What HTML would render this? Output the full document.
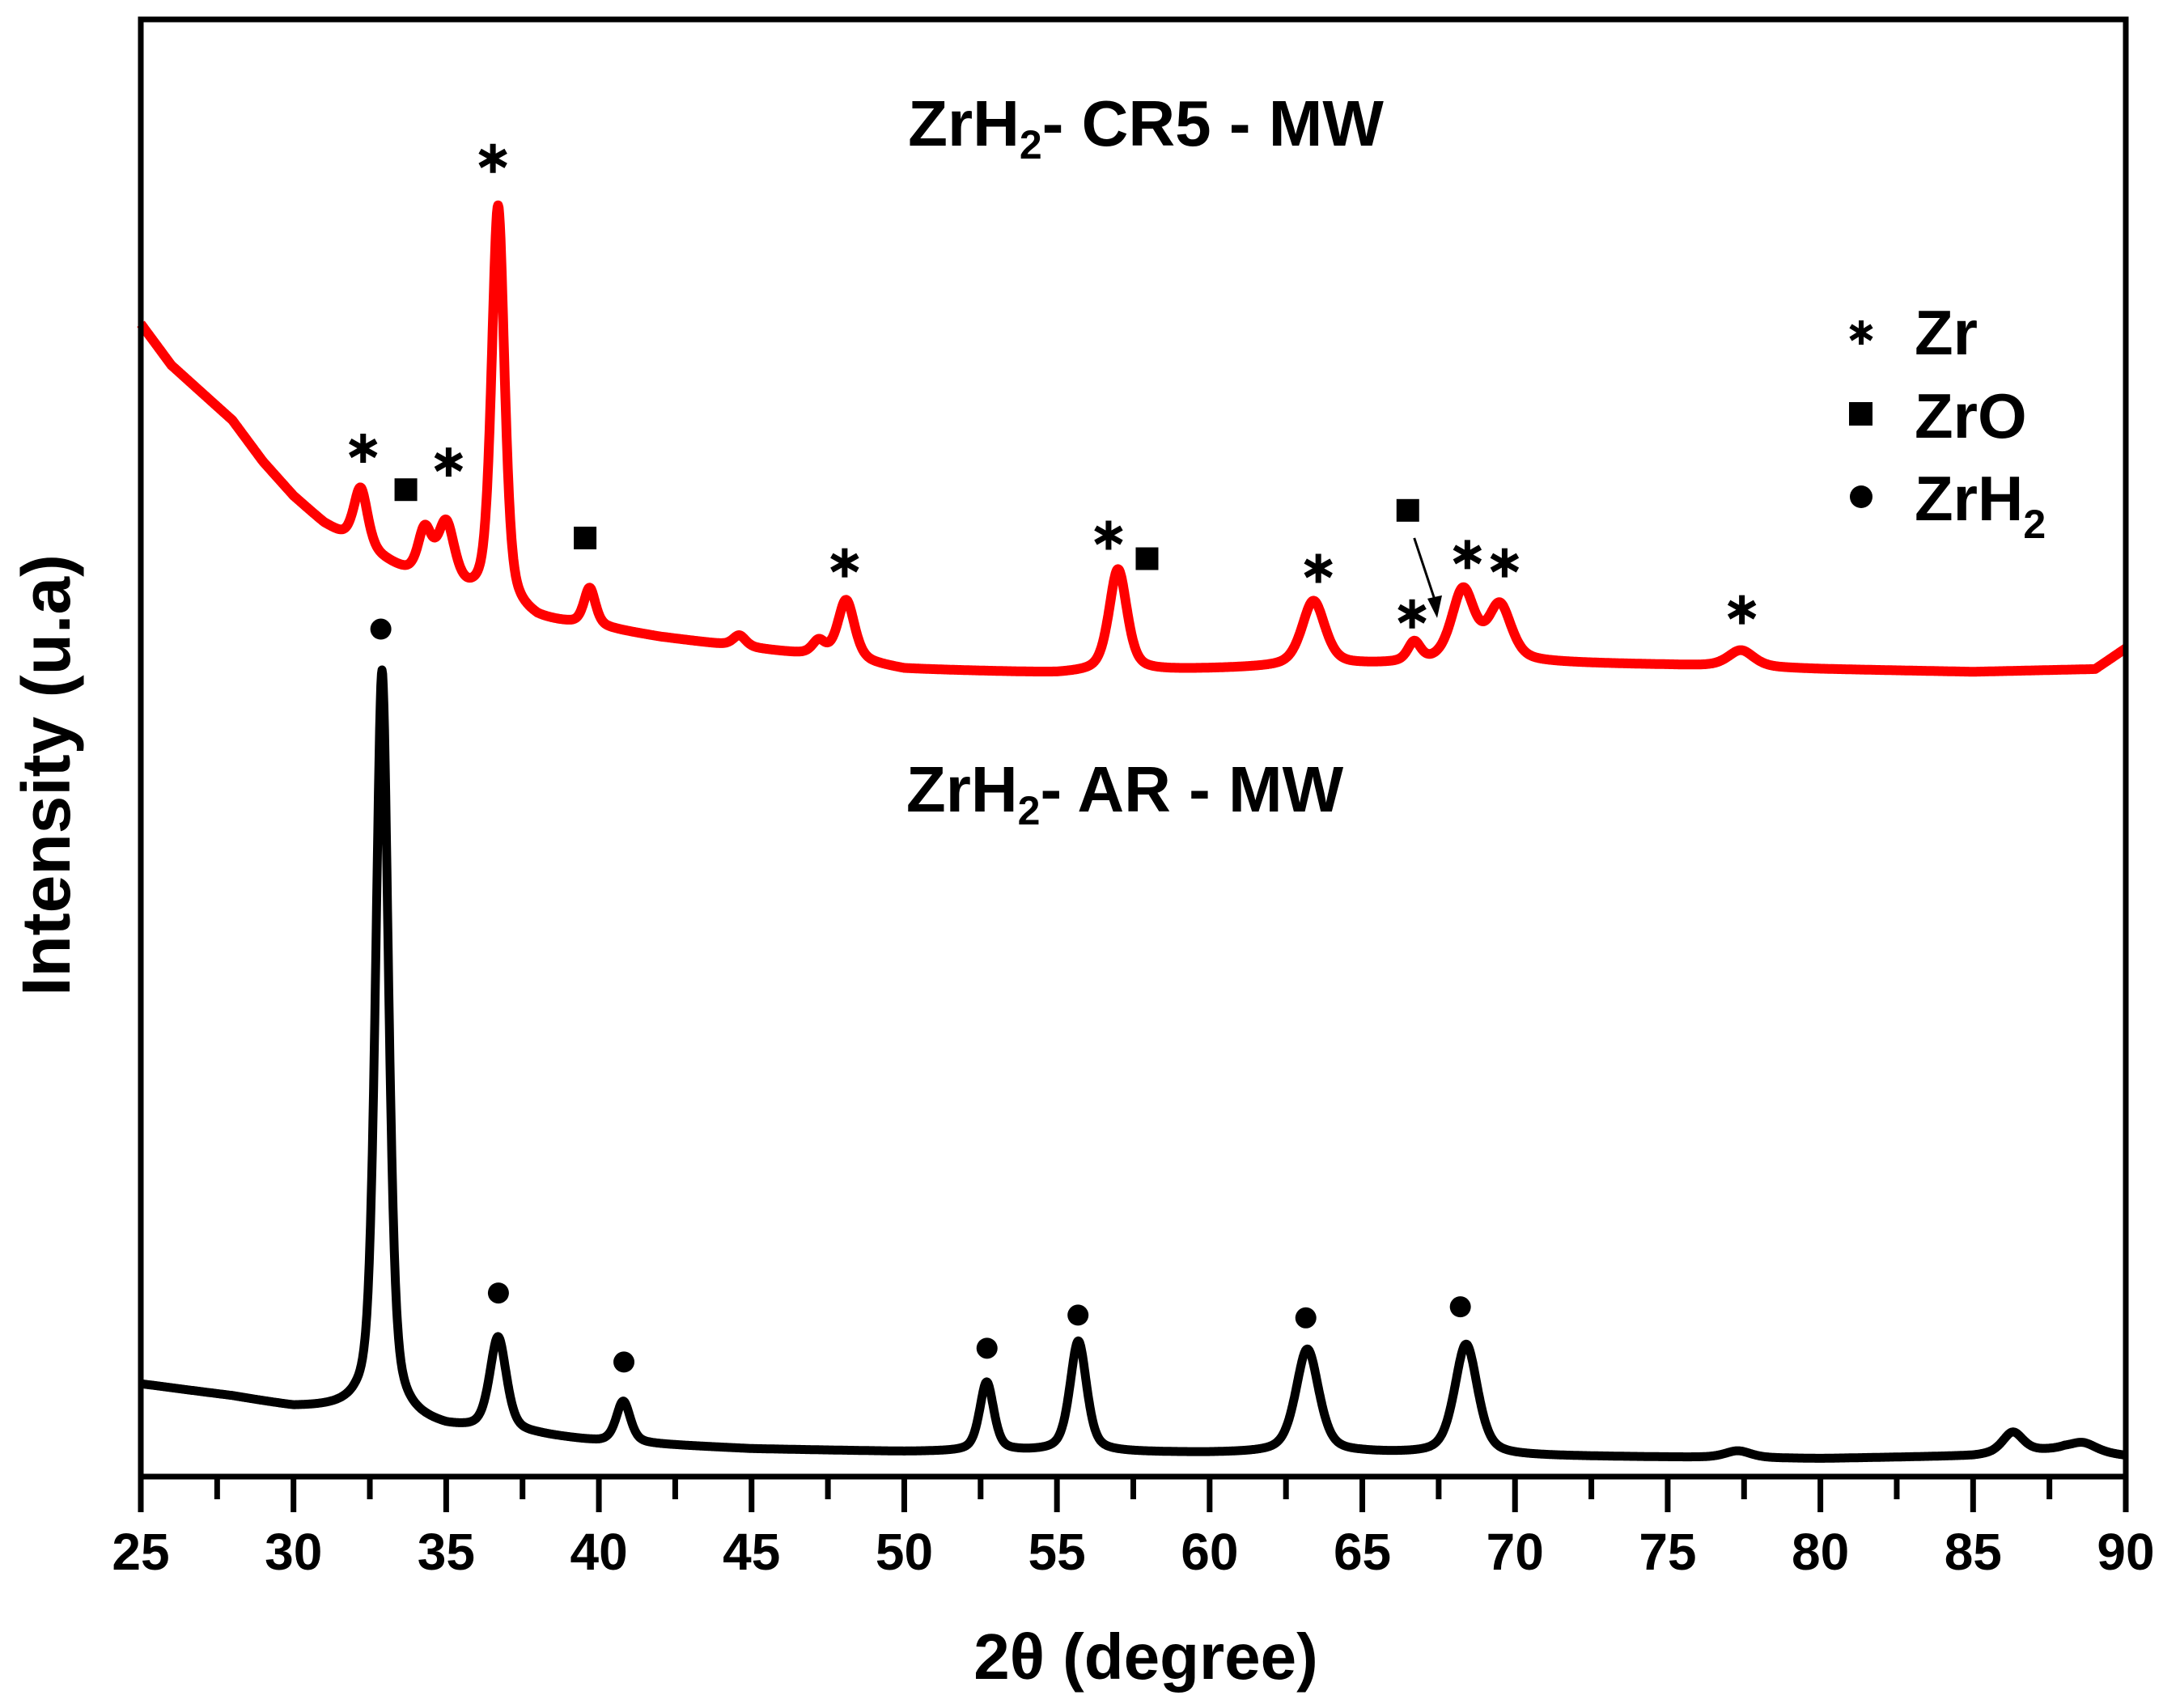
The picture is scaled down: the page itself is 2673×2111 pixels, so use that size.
<!DOCTYPE html>
<html><head><meta charset="utf-8"><style>
html,body{margin:0;padding:0;background:#fff}
svg{display:block}
text{font-family:"Liberation Sans Narrow","Liberation Sans",sans-serif;font-weight:bold;fill:#000}
</style></head><body>
<svg id="chart" width="2673" height="2111" viewBox="0 0 2673 2111" xmlns="http://www.w3.org/2000/svg">
<rect width="2673" height="2111" fill="#fff"/>
<g id="plot"></g>
<g id="marks"></g>
<rect x="174" y="24" width="2453" height="1801" fill="none" stroke="#000" stroke-width="7"/>
<g id="xaxis"></g>
<text x="1416" y="2075" font-size="80" text-anchor="middle" style="font-family:'Liberation Sans',sans-serif">2θ (degree)</text>
<text transform="translate(86,958) rotate(-90)" font-size="84" text-anchor="middle" style="font-family:'Liberation Sans',sans-serif">Intensity (u.a)</text>
<text x="1416" y="180" font-size="80" text-anchor="middle" style="font-family:'Liberation Sans',sans-serif">ZrH<tspan font-size="50" dy="16">2</tspan><tspan dy="-16">- CR5 - MW</tspan></text>
<text x="1390" y="1003" font-size="80" text-anchor="middle" style="font-family:'Liberation Sans',sans-serif">ZrH<tspan font-size="50" dy="16">2</tspan><tspan dy="-16">- AR - MW</tspan></text>
<g>
  <g><path d="M2300 396v30M2287 403l26 16M2287 419l26-16" stroke="#000" stroke-width="6"/><text x="2366" y="438" font-size="78" style="font-family:'Liberation Sans',sans-serif">Zr</text></g>
  <g><rect x="2285" y="497" width="29" height="29" fill="#000"/><text x="2366" y="541" font-size="78" style="font-family:'Liberation Sans',sans-serif">ZrO</text></g>
  <g><circle cx="2300" cy="614" r="14" fill="#000"/><text x="2366" y="643" font-size="78" style="font-family:'Liberation Sans',sans-serif">ZrH<tspan font-size="50" dy="22">2</tspan></text></g>
</g>
</svg>
<script>
// ---- data ----
const redBaseX = [25,26,27,28,29,30,31,32,34,36,38,40,42,45,48,50,55,60,65,70,75,80,85,89,90];
const redBaseY = [835,805,785,765,735,710,690,675,650,635,620,615,608,600,592,585,582,585,588,590,588,585,583,585,600];
const redPeakPos = [32.2,34.3,35.0,36.7,39.7,44.6,47.2,48.1,57.0,63.4,66.7,68.3,69.5,77.4];
const redPeakH   = [43,35,45,290,27,8,10,43,74,47,14,52,40,12];
const redPeakW   = [0.55,0.55,0.65,0.5,0.45,0.5,0.5,0.65,0.7,0.9,0.5,0.9,0.9,1.0];
const blkBaseX = [25,28,30,32,35,38,40,45,50,55,60,65,70,80,85,88,90];
const blkBaseY = [67,58,50,48,35,30,25,20,18,18,17,17,15,13,15,20,15];
const blkPeakPos = [32.9,36.7,40.8,52.7,55.7,63.2,68.4,77.3,86.3,88.6];
const blkPeakH   = [540,68,30,50,80,75,80,5,15,6];
const blkPeakW   = [0.5,0.65,0.55,0.55,0.65,0.9,0.9,1.0,0.8,1.0];
const starX = [32.28,35.08,36.53,48.05,56.69,63.56,66.63,68.44,69.66,77.43];
const starY = [745,735,955,662,682,658,625,668,662,628];
const squareX = [33.68,39.55,57.95,66.49];
const squareY = [715,680,665,700];
const circleX = [32.86,36.71,40.82,52.71,55.69,63.15,68.21];
const circleY = [614,133,83,93,117,115,123];
const xTicks = [25,30,35,40,45,50,55,60,65,70,75,80,85,90];
// ---- scales ----
const X0=174,X1=2627,Y0=1825,YS=1.706;
const xs=v=>X0+(v-25)/65*(X1-X0);
const ys=v=>Y0-v*YS;
const NS='http://www.w3.org/2000/svg';
function interp(xa,ya,x){for(let i=0;i<xa.length-1;i++){if(x<=xa[i+1]){const t=(x-xa[i])/(xa[i+1]-xa[i]);return ya[i]+t*(ya[i+1]-ya[i]);}}return ya[ya.length-1];}
function curve(bx,by,pp,ph,pw){let d='';for(let x=25;x<=90.0001;x+=0.02){let v=interp(bx,by,x);for(let i=0;i<pp.length;i++){const g=(x-pp[i])/(pw[i]/2);v+=ph[i]*(0.5/(1+g*g)+0.5*Math.exp(-0.693*g*g));}d+=(d?'L':'M')+xs(x).toFixed(1)+' '+ys(v).toFixed(1);}return d;}
const plot=document.getElementById('plot');
const r=document.createElementNS(NS,'path');
r.setAttribute('d',curve(redBaseX,redBaseY,redPeakPos,redPeakH,redPeakW));
r.setAttribute('fill','none');r.setAttribute('stroke','#ff0000');r.setAttribute('stroke-width','12');r.setAttribute('stroke-linejoin','round');


plot.appendChild(r);
const b=document.createElementNS(NS,'path');
b.setAttribute('d',curve(blkBaseX,blkBaseY,blkPeakPos,blkPeakH,blkPeakW));
b.setAttribute('fill','none');b.setAttribute('stroke','#000');b.setAttribute('stroke-width','11');b.setAttribute('stroke-linejoin','round');


plot.appendChild(b);
const marks=document.getElementById('marks');
starX.forEach((x,i)=>{const cx=xs(x),cy=ys(starY[i]);const p=document.createElementNS(NS,'path');
p.setAttribute('d',`M${cx} ${cy-18}v36M${cx-16} ${cy-9}l32 18M${cx-16} ${cy+9}l32 -18`);p.setAttribute('stroke','#000');p.setAttribute('stroke-width','7');


marks.appendChild(p);});
squareX.forEach((x,i)=>{const s=document.createElementNS(NS,'rect');s.setAttribute('x',xs(x)-14);s.setAttribute('y',ys(squareY[i])-14);s.setAttribute('width',28);s.setAttribute('height',28);


marks.appendChild(s);});
circleX.forEach((x,i)=>{const c=document.createElementNS(NS,'circle');c.setAttribute('cx',xs(x));c.setAttribute('cy',ys(circleY[i]));c.setAttribute('r',13);


marks.appendChild(c);});
const ar=document.createElementNS(NS,'path');
ar.setAttribute('d',`M${xs(66.7)} ${ys(680)}L${xs(67.45)} ${ys(630)}`);ar.setAttribute('stroke','#000');ar.setAttribute('stroke-width','3');


marks.appendChild(ar);
const ah=document.createElementNS(NS,'path');
{const tx=xs(67.45),ty=ys(622);ah.setAttribute('d',`M${tx} ${ty}l-12 -24l18 -4z`);}


marks.appendChild(ah);
const xa=document.getElementById('xaxis');
for(let v=25;v<=90;v+=2.5){const major=(v%5===0);const t=document.createElementNS(NS,'line');t.setAttribute('x1',xs(v));t.setAttribute('x2',xs(v));t.setAttribute('y1',Y0);t.setAttribute('y2',Y0+(major?44:28));t.setAttribute('stroke','#000');t.setAttribute('stroke-width','7');


xa.appendChild(t);}
xTicks.forEach(v=>{const t=document.createElementNS(NS,'text');t.setAttribute('x',xs(v));t.setAttribute('y',1940);t.setAttribute('font-size','64');t.setAttribute('text-anchor','middle');t.textContent=v;


xa.appendChild(t);});
</script>
</body></html>
